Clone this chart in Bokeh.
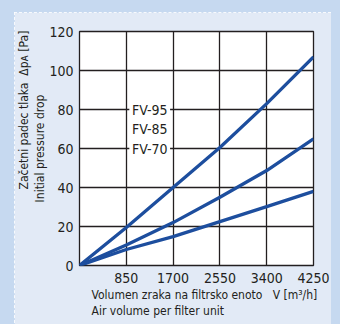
from bokeh.plotting import figure
from bokeh.models import Label, FixedTicker, GlobalInlineStyleSheet, Range1d, Title
from bokeh.embed import file_html
from bokeh.resources import INLINE

# ---- data ----
volume = [0, 850, 1700, 2550, 3400, 4250]          # V [m3/h]
fv95 = [0, 19.5, 40, 60.5, 83, 107]                 # pressure drop [Pa]
fv85 = [0, 10.5, 22, 35, 48.7, 65]
fv70 = [0, 8.2, 14.8, 22.5, 30.2, 38]
series_names = ["FV-95", "FV-85", "FV-70"]
x_ticks = [850, 1700, 2550, 3400, 4250]
y_ticks = [0, 20, 40, 60, 80, 100, 120]
y_title_1 = "Začetni padec tlaka\u00a0\u00a0Δpᴀ [Pa]"
y_title_2 = "Initial pressure drop"
x_title_1 = "Volumen zraka na filtrsko enoto\u00a0\u00a0\u00a0V [m³/h]"
x_title_2 = "Air volume per filter unit"

# ---- styling ----
FONT = "DejaVu Sans Condensed, Roboto Condensed, Liberation Sans Narrow, Roboto"
INK = "#231f20"
BLUE = "#1d4e9e"
OUTER = "#c6d9f0"
INNER = "#e2eaf6"

W, H = 317, 316
L, R, T, B = 64, 18, 19, 63
X0, X1 = 0, 4250
Y0, Y1 = 0, 120

p = figure(width=W, height=H, x_range=Range1d(X0, X1), y_range=Range1d(Y0, Y1),
           output_backend="svg", toolbar_location=None,
           min_border_left=L, min_border_right=R, min_border_top=T, min_border_bottom=B)
p.stylesheets = [GlobalInlineStyleSheet(
    css=f"html,body{{margin:0;padding:0;background:{OUTER};overflow:hidden;}}")]
p.styles = {"margin-left": "14px", "margin-top": "12px",
            "outline": "1px dashed #ffffff", "outline-offset": "-1px"}

p.border_fill_color = INNER
p.background_fill_color = "white"
p.outline_line_color = INK
p.outline_line_width = 1.3

for g, ticks in ((p.xgrid[0], x_ticks), (p.ygrid[0], y_ticks)):
    g.ticker = FixedTicker(ticks=ticks)
    g.grid_line_color = INK
    g.grid_line_width = 1.3
    g.grid_line_alpha = 1.0

p.xaxis.ticker = FixedTicker(ticks=x_ticks)
p.yaxis.ticker = FixedTicker(ticks=y_ticks)
for ax in (p.xaxis[0], p.yaxis[0]):
    ax.axis_line_color = None
    ax.major_tick_line_color = None
    ax.minor_tick_line_color = None
    ax.major_tick_out = 0
    ax.major_tick_in = 0
    ax.minor_tick_out = 0
    ax.minor_tick_in = 0
    ax.axis_label_standoff = 0
    ax.major_label_text_font = FONT
    ax.major_label_text_font_size = "14px"
    ax.major_label_text_color = INK
p.xaxis.major_label_standoff = 7
p.yaxis.major_label_standoff = 6

# white box behind the series labels (interrupts horizontal grid lines)
p.quad(left=[x_ticks[0] + 55], right=[x_ticks[1] - 55], bottom=[56], top=[84],
       fill_color="white", line_color=None)

for s in (fv95, fv85, fv70):
    p.line(volume, s, line_color=BLUE, line_width=3.3)

for name, yv in zip(series_names, [80, 70, 60]):
    p.add_layout(Label(x=(x_ticks[0] + x_ticks[1]) / 2, y=yv, text=name,
                       text_align="center", text_baseline="middle",
                       text_font=FONT, text_font_size="14px", text_color=INK))

def title(text, offset, where, align="left", size="12px"):
    p.add_layout(Title(text=text, align=align, offset=offset, standoff=0,
                       text_font=FONT, text_font_size=size,
                       text_font_style="normal", text_color=INK), where)

title(y_title_2, 0, "left", "center")
title(y_title_1, 76, "left", "left")
title(x_title_1, 12, "below")
title(x_title_2, 12, "below")

open("out.html", "w").write(file_html(p, INLINE))
